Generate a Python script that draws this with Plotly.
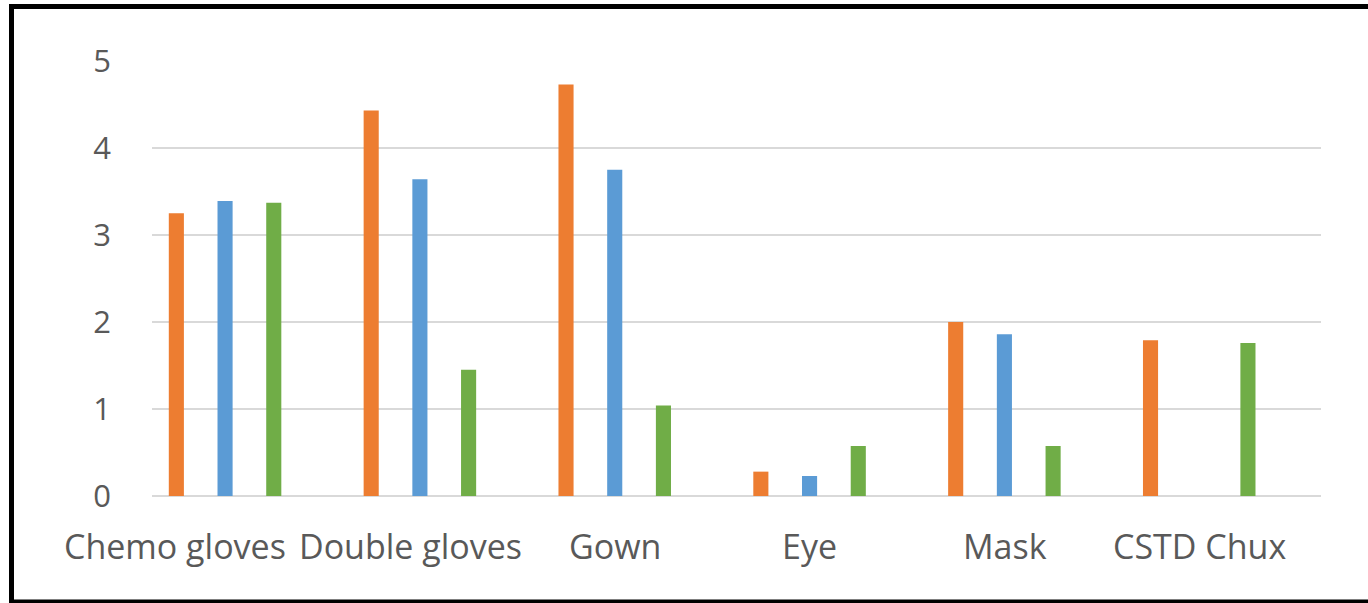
import plotly.graph_objects as go

categories = ["Chemo gloves", "Double gloves", "Gown", "Eye", "Mask", "CSTD Chux"]
series_orange = [3.25, 4.43, 4.73, 0.28, 2.00, 1.79]
series_blue = [3.39, 3.64, 3.75, 0.23, 1.86, None]
series_green = [3.37, 1.45, 1.04, 0.575, 0.575, 1.76]
series_empty = [None, None, None, None, None, None]
y_ticks = [0, 1, 2, 3, 4, 5]

W, H = 1368, 603
L, R, T, B = 152, 47, 61, 107
pw, ph = W - L - R, H - T - B

fig = go.Figure()
for name, vals, col in [("Series 1", series_orange, "#ED7D31"),
                        ("Series 2", series_blue, "#5B9BD5"),
                        ("Series 3", series_green, "#70AD47"),
                        ("Series 4", series_empty, "#A5A5A5")]:
    fig.add_trace(go.Bar(x=categories, y=vals, name=name, marker_color=col,
                         marker_line_width=0, hoverinfo="x+y"))

font_family = "Open Sans, Lato, sans-serif"
label_shift = [-74, -34, -24, -24, -24, -24]
for cat, sh in zip(categories, label_shift):
    fig.add_annotation(x=cat, xref="x", y=0, yref="paper", text=cat,
                       showarrow=False, xanchor="center", yanchor="middle",
                       xshift=sh, yshift=-50,
                       font=dict(family=font_family, size=34, color="#595959"))

def px_x(p):
    return (p - L) / pw

def px_y(p):
    return (H - B - p) / ph

fig.add_shape(type="rect", xref="paper", yref="paper",
              x0=px_x(11.5), x1=px_x(1375), y0=px_y(6.5), y1=px_y(602),
              line=dict(color="black", width=5), fillcolor="rgba(0,0,0,0)",
              layer="above")

fig.update_layout(
    width=W, height=H,
    margin=dict(l=L, r=R, t=T, b=B, pad=0),
    paper_bgcolor="white", plot_bgcolor="white",
    barmode="group", bargap=0.0, bargroupgap=0.69,
    showlegend=False,
    xaxis=dict(range=[-0.5, len(categories) - 0.5], autorange=False,
               showticklabels=False, showgrid=False, zeroline=False,
               showline=False, ticks=""),
    yaxis=dict(range=[0, 5], tickvals=y_ticks, showgrid=True,
               gridcolor="#D9D9D9", gridwidth=2, zeroline=True,
               zerolinecolor="#D9D9D9", zerolinewidth=2, showline=False,
               ticks="", ticklabelstandoff=40,
               tickfont=dict(family=font_family, size=31, color="#595959")),
)

fig.write_html("out.html")
